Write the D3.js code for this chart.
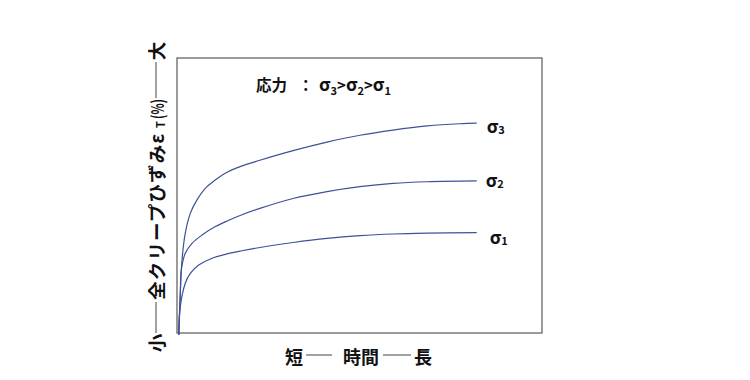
<!DOCTYPE html>
<html>
<head>
<meta charset="utf-8">
<script src="https://cdn.jsdelivr.net/npm/d3@7"></script>
<style>
  body { margin: 0; background: #fff; }
  text { font-family: "Noto Sans CJK JP", "Noto Sans", sans-serif; fill: #111; }
</style>
</head>
<body>
<div id="chart"></div>
<script>
// creep curves (time vs total creep strain), arbitrary units 0-100
const sigma3Time = [0.47, 0.9, 1.37, 2.27, 3.64, 5.48, 7.75, 10.5, 13.2, 17.3, 22.7, 31.8, 41.1, 50.1, 59.2, 68.5, 77.5, 82.1];
const sigma3Strain = [-0.7, 14.4, 26.5, 36.3, 43.5, 48.4, 52.6, 55.6, 58.1, 60.5, 62.8, 66.3, 69.4, 71.9, 73.8, 75.3, 76.1, 76.3];
const sigma2Time = [0.47, 0.9, 1.18, 2.27, 4.11, 6.85, 10.5, 14.2, 17.8, 22.7, 31.8, 41.1, 50.1, 59.2, 68.5, 82.1];
const sigma2Strain = [-0.7, 14.0, 22.9, 29.0, 32.6, 35.6, 38.7, 41.0, 43.0, 45.3, 48.9, 51.4, 53.2, 54.4, 55.0, 55.3];
const sigma1Time = [0.47, 0.9, 2.27, 3.64, 5.95, 9.59, 13.2, 17.8, 22.7, 31.8, 41.1, 50.1, 59.2, 68.5, 82.1];
const sigma1Strain = [-0.7, 9.6, 18.1, 21.7, 24.7, 27.2, 28.6, 29.9, 31.1, 32.9, 34.4, 35.4, 36.0, 36.3, 36.5];
const seriesNames = ['3', '2', '1'];

const width = 750;
const height = 380;
const margin = { top: 58, right: 208, bottom: 47, left: 177 };

const svg = d3.select('#chart')
  .append('svg')
  .attr('width', width)
  .attr('height', height);

const xScale = d3.scaleLinear().domain([0, 100]).range([margin.left, width - margin.right]);
const yScale = d3.scaleLinear().domain([0, 100]).range([height - margin.bottom, margin.top]);

// frame
svg.append('rect')
  .attr('x', xScale(0))
  .attr('y', yScale(100))
  .attr('width', xScale(100) - xScale(0))
  .attr('height', yScale(0) - yScale(100))
  .attr('fill', 'none')
  .attr('stroke', '#666')
  .attr('stroke-width', 1.3);

const series = [
  { name: seriesNames[0], t: sigma3Time, s: sigma3Strain },
  { name: seriesNames[1], t: sigma2Time, s: sigma2Strain },
  { name: seriesNames[2], t: sigma1Time, s: sigma1Strain },
];

const line = d3.line()
  .x((d) => xScale(d[0]))
  .y((d) => yScale(d[1]))
  .curve(d3.curveCatmullRom.alpha(0.5));

svg.append('g')
  .selectAll('path')
  .data(series)
  .join('path')
  .attr('d', (d) => line(d.t.map((t, i) => [t, d.s[i]])))
  .attr('fill', 'none')
  .attr('stroke', '#3d5296')
  .attr('stroke-width', 1.2);

// series labels at curve ends
const labelOffsets = { '3': [10, 2], '2': [9, -2], '1': [13, 3] };
const labels = svg.append('g')
  .selectAll('text')
  .data(series)
  .join('text')
  .attr('x', (d) => xScale(d.t[d.t.length - 1]) + labelOffsets[d.name][0])
  .attr('y', (d) => yScale(d.s[d.s.length - 1]) + labelOffsets[d.name][1])
  .attr('dominant-baseline', 'central')
  .style('font-size', '18px')
  .style('font-weight', 'bold');
labels.append('tspan').text('σ');
labels.append('tspan').attr('dy', 4).style('font-size', '11px').text((d) => d.name);

// title
const title = svg.append('g').style('font-weight', 'bold');
title.append('text').attr('x', 256).attr('y', 91).style('font-size', '15.5px').text('応力');
title.append('text').attr('x', 298).attr('y', 91).style('font-size', '15.5px').text('：');
const tt = title.append('text').attr('x', 319).attr('y', 91);
[['3', '>'], ['2', '>'], ['1', '']].forEach(([sub, sep]) => {
  tt.append('tspan').style('font-size', '18px').text('σ');
  tt.append('tspan').attr('dy', 4).style('font-size', '11px').text(sub);
  tt.append('tspan').attr('dy', -4).style('font-size', '15px').text(sep);
});

// x axis label
const xl = svg.append('g').style('font-size', '18px').style('font-weight', 'bold');
xl.append('text').attr('x', 294).attr('y', 356).attr('text-anchor', 'middle').attr('dominant-baseline', 'central').text('短');
xl.append('line').attr('x1', 306).attr('x2', 332).attr('y1', 355).attr('y2', 355).attr('stroke', '#444').attr('stroke-width', 1);
xl.append('text').attr('x', 361).attr('y', 356).attr('text-anchor', 'middle').attr('dominant-baseline', 'central').text('時間');
xl.append('line').attr('x1', 383).attr('x2', 411).attr('y1', 355).attr('y2', 355).attr('stroke', '#444').attr('stroke-width', 1);
xl.append('text').attr('x', 423).attr('y', 356).attr('text-anchor', 'middle').attr('dominant-baseline', 'central').text('長');

// y axis label (rotated)
const yl = svg.append('g')
  .attr('transform', 'translate(156,0) rotate(-90)')
  .style('font-size', '18.5px')
  .style('font-weight', 'bold');
yl.append('text').attr('x', -343).attr('y', 0).attr('text-anchor', 'middle').attr('dominant-baseline', 'central').text('小');
yl.append('line').attr('x1', -333).attr('x2', -302).attr('y1', 0).attr('y2', 0).attr('stroke', '#444').attr('stroke-width', 1);
yl.append('text').attr('x', -300).attr('y', 0).attr('dominant-baseline', 'central').style('letter-spacing', '1.2px').text('全クリープひずみε');
yl.append('text').attr('x', -128).attr('y', 4).attr('dominant-baseline', 'central').style('font-size', '11px').text('T');
yl.append('text').attr('x', -119).attr('y', 0).attr('dominant-baseline', 'central').style('font-size', '17px')
  .attr('textLength', 20).attr('lengthAdjust', 'spacingAndGlyphs').text('(%)');
yl.append('line').attr('x1', -98).attr('x2', -62).attr('y1', 0).attr('y2', 0).attr('stroke', '#444').attr('stroke-width', 1);
yl.append('text').attr('x', -51).attr('y', 0).attr('text-anchor', 'middle').attr('dominant-baseline', 'central').text('大');
</script>
</body>
</html>
